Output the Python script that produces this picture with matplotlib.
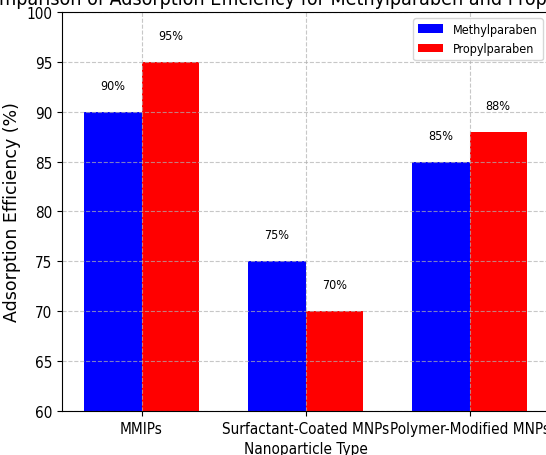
import numpy as np
import matplotlib
matplotlib.use("Agg")
import matplotlib.pyplot as plt

categories = ["MMIPs", "Surfactant-Coated MNPs", "Polymer-Modified MNPs"]
methyl = [90, 75, 85]
propyl = [95, 70, 88]

plt.rcParams['font.family'] = 'DejaVu Sans'
plt.rcParams['font.stretch'] = 'condensed'

fig = plt.figure(figsize=(5.46, 4.56), dpi=100)
ax = fig.add_axes([0.1136, 0.0965, 0.892, 0.875])

x = np.arange(len(categories))
w = 0.35
b1 = ax.bar(x - w / 2, methyl, w, color='blue', label='Methylparaben')
b2 = ax.bar(x + w / 2, propyl, w, color='red', label='Propylparaben')

for bars in (b1, b2):
    for b in bars:
        h = b.get_height()
        ax.text(b.get_x() + b.get_width() / 2, h + 2, f"{h:.0f}%",
                ha='center', va='bottom', fontsize=9)

ax.set_ylim(60, 100)
ax.set_xticks(x)
ax.set_xticklabels(categories, fontsize=11)
ax.tick_params(axis='y', labelsize=11)
ax.set_xlabel('Nanoparticle Type', fontsize=11)
ax.set_ylabel('Adsorption Efficiency (%)', fontsize=12.5, fontstretch='normal')
ax.yaxis.set_label_coords(-0.085, 0.5)
ax.set_title('Comparison of Adsorption Efficiency for Methylparaben and Propylparaben',
             fontsize=14)
ax.legend(loc='upper right', fontsize=9)
ax.grid(True, linestyle='--', alpha=0.7)

fig.savefig('out.png', dpi=100)
